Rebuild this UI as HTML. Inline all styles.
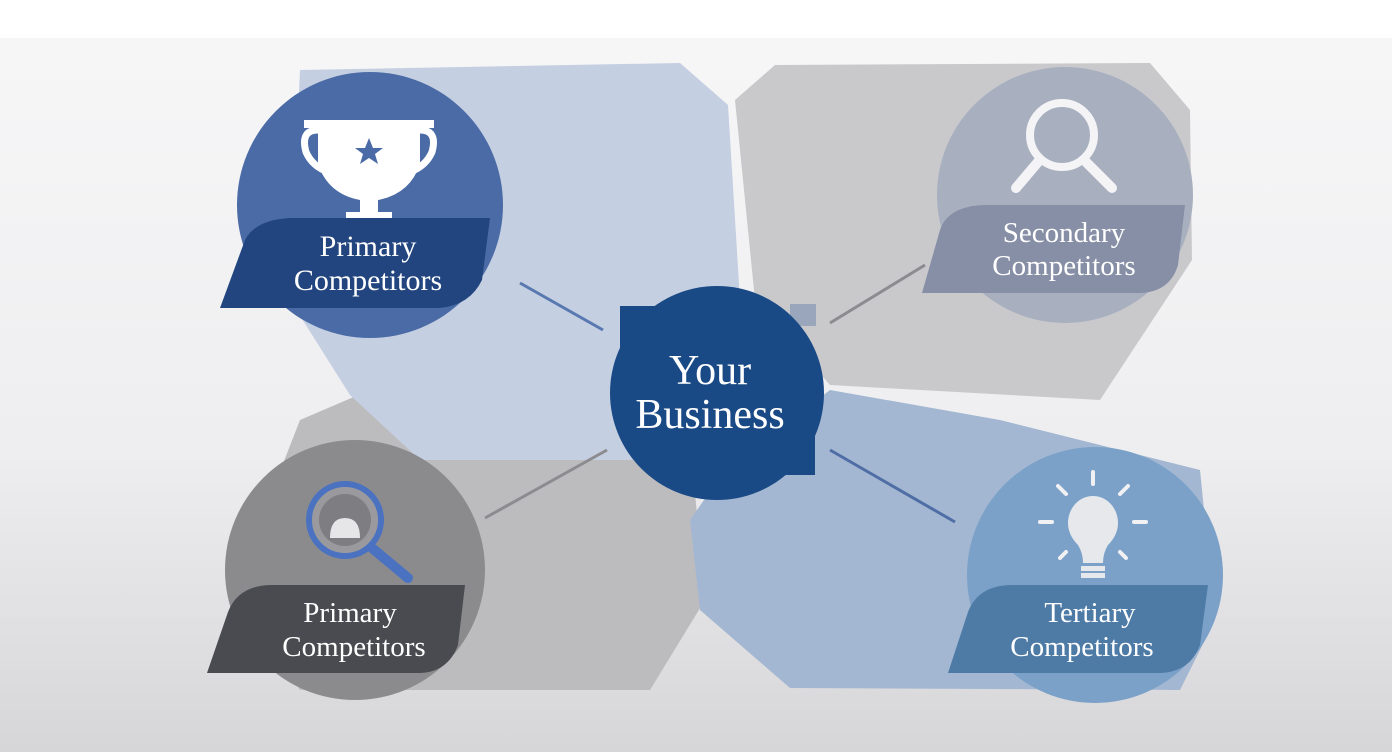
<!DOCTYPE html>
<html><head><meta charset="utf-8"><style>
html,body{margin:0;padding:0;width:1392px;height:752px;overflow:hidden;background:#fff}
svg{display:block}
text{font-family:"Liberation Serif",serif;fill:#fff;text-anchor:middle}
</style></head><body>
<svg width="1392" height="752" viewBox="0 0 1392 752">
<defs>
<linearGradient id="bg" x1="0" y1="0" x2="0" y2="1">
<stop offset="0" stop-color="#f7f7f8"/><stop offset="0.6" stop-color="#eeeef0"/><stop offset="1" stop-color="#d6d6d8"/>
</linearGradient>
</defs>
<rect width="1392" height="752" fill="url(#bg)"/>
<rect width="1392" height="38" fill="#fff"/>
<!-- back polygons -->
<polygon points="735,100 775,65 1150,63 1190,110 1192,260 1100,400 830,385 755,300" fill="#c9c9cc"/>
<polygon points="300,420 370,390 650,385 690,440 705,600 650,690 300,690 230,600" fill="#bcbcbe"/>
<polygon points="300,70 680,63 728,105 740,300 705,390 640,460 420,460 350,395 290,300" fill="#c5cfe2"/>
<polygon points="690,520 725,470 830,390 1000,420 1200,470 1215,620 1180,690 790,688 700,610" fill="#a3b7d2"/>
<!-- connectors -->
<line x1="520" y1="283" x2="603" y2="330" stroke="#5878b0" stroke-width="3"/>
<line x1="830" y1="323" x2="925" y2="265" stroke="#8c8c90" stroke-width="3"/>
<line x1="485" y1="518" x2="607" y2="450" stroke="#8c8c90" stroke-width="3"/>
<line x1="830" y1="450" x2="955" y2="522" stroke="#4f6ea5" stroke-width="3"/>
<!-- TL -->
<circle cx="370" cy="205" r="133" fill="#4b6ba6"/>
<path d="M304,120 h130 v8 h-130z" fill="#fff"/>
<path d="M318,124 h102 v40 q-10,30 -42,36 v12 h14 v8 h-46 v-8 h14 v-12 q-32,-6 -42,-36z" fill="#fff"/>
<path d="M318,130 q-18,0 -12,22 q6,14 22,20" fill="none" stroke="#fff" stroke-width="7"/>
<path d="M420,130 q18,0 12,22 q-6,14 -22,20" fill="none" stroke="#fff" stroke-width="7"/>
<polygon points="369,138 373,148 383,148 375,154 378,164 369,158 360,164 363,154 355,148 365,148" fill="#4b6ba6"/>
<path d="M220,308 L245,240 Q255,220 290,218 H490 L482,280 Q470,305 440,308 Z" fill="#22457f"/>
<text x="368" y="256" font-size="30">Primary</text>
<text x="368" y="290" font-size="30">Competitors</text>
<!-- TR -->
<circle cx="1065" cy="195" r="128" fill="#a8b0c0"/>
<circle cx="1062" cy="135" r="32" fill="none" stroke="#f4f4f6" stroke-width="8"/>
<line x1="1038" y1="162" x2="1016" y2="188" stroke="#f4f4f6" stroke-width="10" stroke-linecap="round"/>
<line x1="1086" y1="162" x2="1112" y2="188" stroke="#f4f4f6" stroke-width="10" stroke-linecap="round"/>
<path d="M922,293 L940,230 Q948,206 985,205 H1185 L1178,265 Q1170,292 1140,293 Z" fill="#878fa6"/>
<text x="1064" y="242" font-size="29">Secondary</text>
<text x="1064" y="275" font-size="29">Competitors</text>
<!-- BL -->
<circle cx="355" cy="570" r="130" fill="#8b8b8e"/>
<circle cx="345" cy="520" r="36" fill="#9a9a9e" stroke="#4a72c0" stroke-width="6"/>
<circle cx="345" cy="520" r="26" fill="#7d7d82"/>
<path d="M330,538 q0,-20 15,-20 q15,0 15,20z" fill="#e6e6e8"/>
<line x1="372" y1="548" x2="408" y2="578" stroke="#4a72c0" stroke-width="10" stroke-linecap="round"/>
<path d="M207,673 L228,612 Q238,586 270,585 H465 L458,645 Q448,672 420,673 Z" fill="#4a4b50"/>
<text x="350" y="622" font-size="29">Primary</text>
<text x="354" y="656" font-size="29">Competitors</text>
<!-- BR -->
<circle cx="1095" cy="575" r="128" fill="#7ba1c8"/>
<g stroke="#f1f1f3" stroke-width="4" stroke-linecap="round">
<line x1="1093" y1="472" x2="1093" y2="484"/><line x1="1058" y1="486" x2="1066" y2="494"/><line x1="1128" y1="486" x2="1120" y2="494"/>
<line x1="1040" y1="522" x2="1052" y2="522"/><line x1="1134" y1="522" x2="1146" y2="522"/>
<line x1="1060" y1="558" x2="1066" y2="552"/><line x1="1126" y1="558" x2="1120" y2="552"/></g>
<path d="M1093,496 a25,27 0 0 1 25,27 q0,12 -10,22 q-5,8 -5,18 h-20 q0,-10 -5,-18 q-10,-10 -10,-22 a25,27 0 0 1 25,-27z" fill="#e6e8ec"/>
<rect x="1081" y="566" width="24" height="5" fill="#e6e8ec"/><rect x="1081" y="573" width="24" height="5" fill="#e6e8ec"/>
<path d="M948,673 L968,612 Q978,586 1010,585 H1208 L1200,645 Q1190,672 1160,673 Z" fill="#4e7aa6"/>
<text x="1090" y="622" font-size="29">Tertiary</text>
<text x="1082" y="656" font-size="29">Competitors</text>
<!-- center -->
<rect x="620" y="306" width="60" height="60" fill="#1a4a86"/>
<rect x="760" y="420" width="55" height="55" fill="#1a4a86"/>
<rect x="790" y="304" width="26" height="22" fill="#9aa6bb"/>
<circle cx="717" cy="393" r="107" fill="#1a4a86"/>
<text x="710" y="384" font-size="42">Your</text>
<text x="710" y="428" font-size="42">Business</text>
</svg>
</body></html>
